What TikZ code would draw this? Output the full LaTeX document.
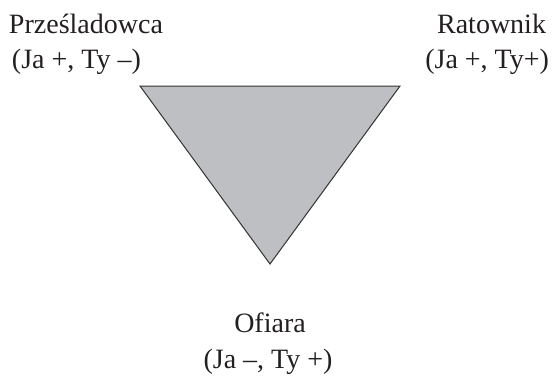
\documentclass[tikz,border=0pt]{standalone}
\usepackage{fontspec}
\setmainfont{Liberation Serif}
\definecolor{trifill}{HTML}{BEBFC2}
\definecolor{triline}{HTML}{333333}
\definecolor{txt}{HTML}{231F20}
\tikzset{
  lbl/.style={inner sep=0pt, outer sep=0pt, text=txt, font=\fontsize{28}{34}\selectfont},
  tri/.style={fill=trifill, draw=triline, line width=1pt, line join=miter}
}
\begin{document}
\begin{tikzpicture}[x=1pt,y=-1pt]
\useasboundingbox (0,0) rectangle (553,375);
\coordinate (tl) at (140,86);
\coordinate (tr) at (400,86);
\coordinate (bt) at (270,264);
\path[tri] (tl) -- (tr) -- (bt) -- cycle;
\node[lbl, anchor=base west] (p1) at (9,33) {Prześladowca};
\node[lbl, anchor=base west] (p2) at (12,68) {(Ja +, Ty –)};
\node[lbl, anchor=base east] (r1) at (546,33) {Ratownik};
\node[lbl, anchor=base east] (r2) at (549,68) {(Ja +, Ty+)};
\node[lbl, anchor=base] (o1) at (270,332) {Ofiara};
\node[lbl, anchor=base] (o2) at (268,368) {(Ja –, Ty +)};
\end{tikzpicture}
\end{document}
